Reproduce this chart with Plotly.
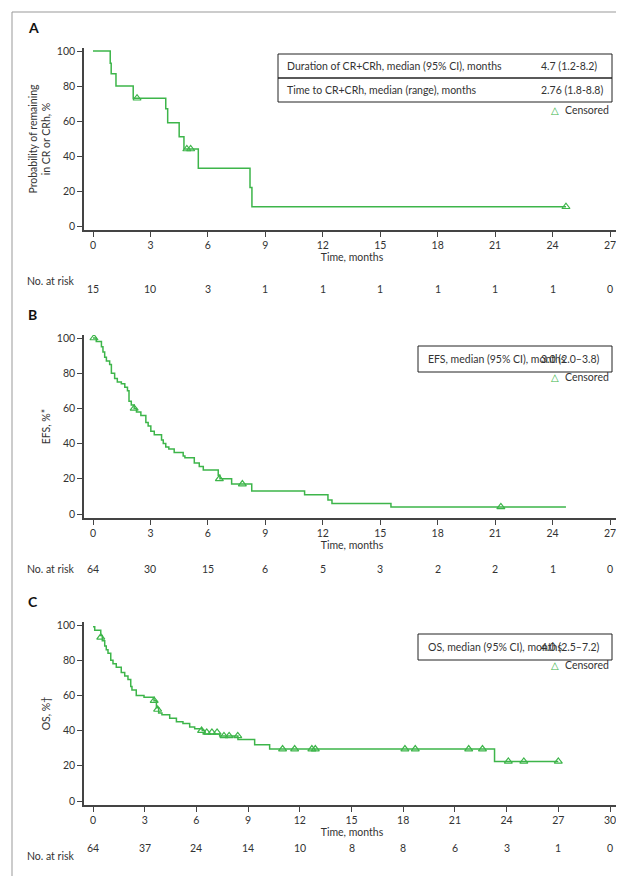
import plotly.graph_objects as go

W, H = 624, 876
GREEN = "#3db54a"
TXT = "#333333"
FONT = "Lato"

# Panel A: duration of CR+CRh
a_time = [0, 0.9, 0.95, 1.2, 2.1, 3.8, 3.9, 4.5, 4.75, 5.5, 8.2, 8.3, 24.7]
a_surv = [100, 93, 87, 80, 73, 67, 59, 51, 44, 33, 22, 11, 11]
a_cens_t = [2.3, 4.9, 5.1, 24.7]
a_cens_s = [73, 44, 44, 11]
a_risk = [15, 10, 3, 1, 1, 1, 1, 1, 1, 0]

# Panel B: EFS
b_time = [0, 0.17, 0.44, 0.52, 0.61, 0.7, 0.87, 0.96, 1.13, 1.27, 1.48, 1.66, 1.8, 1.88, 2.0,
          2.15, 2.27, 2.5, 2.76, 2.88, 3.02, 3.2, 3.58, 3.67, 3.8, 3.96, 4.24, 4.71, 4.8, 5.29,
          5.55, 5.76, 6.54, 6.63, 7.24, 8.29, 11.05, 12.27, 12.48, 15.56, 24.7]
b_surv = [100, 98, 95, 92, 89, 87, 85, 80, 77, 75, 74, 72, 70, 64, 62,
          60, 58, 56, 52, 50, 47, 45, 42, 40, 38, 37, 35, 33, 32, 29,
          27, 25, 22, 20, 17, 13, 11, 8, 6, 4, 4]
b_cens_t = [0.05, 2.15, 6.6, 7.8, 21.3]
b_cens_s = [100, 60, 20, 17, 4]
b_risk = [64, 30, 15, 6, 5, 3, 2, 2, 1, 0]

# Panel C: OS
c_time = [0, 0.1, 0.45, 0.54, 0.68, 0.77, 0.87, 1.03, 1.16, 1.35, 1.64, 1.84, 2.03, 2.19, 2.26,
          2.51, 2.96, 3.54, 3.68, 3.81, 4.0, 4.45, 4.84, 5.22, 5.61, 5.9, 6.34, 6.48, 7.35, 8.41,
          9.38, 10.25, 23.3, 27.0]
c_surv = [99, 97, 94, 91, 88, 86, 84, 80, 78, 76, 73, 71, 69, 65, 63,
          60, 59, 57, 53, 50, 49, 47, 45, 44, 42, 41, 40, 38, 37, 35,
          32, 29.5, 22.5, 22.5]
c_cens_t = [0.45, 3.55, 3.75, 6.3, 6.6, 6.9, 7.2, 7.6, 7.9, 8.4, 11.0, 11.7, 12.7, 12.9,
            18.1, 18.7, 21.8, 22.6, 24.1, 25.0, 27.0]
c_cens_s = [93, 57, 52, 40, 39, 39, 39, 37, 37, 37, 29.5, 29.5, 29.5, 29.5,
            29.5, 29.5, 29.5, 29.5, 22.5, 22.5, 22.5]
c_risk = [64, 37, 24, 14, 10, 8, 8, 6, 3, 1, 0]


def px(x):
    return x / W


def py(y):
    return 1 - y / H


panels = [
    # letter, time, surv, cens t, cens s, risk, xmax, y100 px, y0 px, ytitle
    ("A", a_time, a_surv, a_cens_t, a_cens_s, a_risk, 27, 43, 218,
     "Probability of remaining<br>in CR or CRh, %"),
    ("B", b_time, b_surv, b_cens_t, b_cens_s, b_risk, 27, 330, 506, "EFS, %*"),
    ("C", c_time, c_surv, c_cens_t, c_cens_s, c_risk, 30, 617, 793, "OS, %\u2020"),
]

fig = go.Figure()
annotations = []
shapes = [dict(type="rect", xref="paper", yref="paper", x0=px(4), x1=px(619), y0=py(4), y1=py(871),
               line=dict(color="#999999", width=1))]


def txt(s, x, y, anchor="left", color=TXT, size=10.5, family=FONT):
    annotations.append(dict(text=s, x=px(x), y=py(y), xref="paper", yref="paper", showarrow=False,
                            xanchor=anchor, yanchor="middle", font=dict(size=size, color=color, family=family)))


for i, (letter, t, s, ct, cs, risk, xmax, y100, y0, ytitle) in enumerate(panels):
    n = str(i + 1) if i else ""
    xppm = (602 - 85) / xmax
    yppp = (y0 - y100) / 100
    xr = [-(85 - 76) / xppm, xmax + (612 - 602) / xppm]
    ytop, ybot = y100 - 3, y0 + 4
    yr = [-(ybot - y0) / yppp, 100 + (y100 - ytop) / yppp]
    fig.add_trace(go.Scatter(x=t, y=s, mode="lines", line=dict(color=GREEN, width=1.5, shape="hv"),
                             xaxis="x" + n, yaxis="y" + n, showlegend=False, hoverinfo="skip"))
    fig.add_trace(go.Scatter(x=ct, y=cs, mode="markers",
                             marker=dict(symbol="triangle-up-open", size=7, color=GREEN, line=dict(width=1.2)),
                             xaxis="x" + n, yaxis="y" + n, showlegend=False))
    ax = dict(domain=[px(76), px(612)], range=xr, tickvals=list(range(0, xmax + 1, 3)),
              showline=True, linecolor="#444", linewidth=1.5, ticks="outside", ticklen=5,
              tickcolor="#444", showgrid=False, zeroline=False, anchor="y" + n, automargin=False,
              tickfont=dict(size=10.5, color=TXT, family=FONT),
              title=dict(text="Time, months", font=dict(size=10.5, color=TXT, family=FONT), standoff=2))
    ay = dict(domain=[py(ybot), py(ytop)], range=yr, tickvals=[0, 20, 40, 60, 80, 100],
              showline=True, linecolor="#444", linewidth=1.5, ticks="outside", ticklen=5,
              tickcolor="#444", showgrid=False, zeroline=False, anchor="x" + n, automargin=False,
              tickfont=dict(size=10.5, color=TXT, family=FONT),
              title=dict(text=ytitle, font=dict(size=10.5, color=TXT, family=FONT), standoff=4))
    fig.update_layout(**{"xaxis" + n: ax, "yaxis" + n: ay})

    txt("<b>%s</b>" % letter, 18, y100 - 24, size=14, color="#111")
    ry = py(y0 + 55)
    txt("No. at risk", 17, y0 + 55)
    for k, r in enumerate(risk):
        annotations.append(dict(text=str(r), x=k * 3, y=ry, xref="x" + n, yref="paper",
                                showarrow=False, font=dict(size=10.5, color=TXT, family=FONT)))


def box(x0, x1, y0, y1):
    shapes.append(dict(type="rect", xref="paper", yref="paper", x0=px(x0), x1=px(x1), y0=py(y1), y1=py(y0),
                       line=dict(color="#222", width=1)))


def censored(y):
    txt("Censored", 603, y, "right")
    txt("\u25b3", 547, y, "center", color=GREEN, size=10, family="DejaVu Sans")


box(270, 604, 46, 70)
box(270, 604, 70, 94)
txt("Duration of CR+CRh, median (95% CI), months", 277, 58)
txt("4.7 (1.2-8.2)", 531, 58)
txt("Time to CR+CRh, median (range), months", 277, 82)
txt("2.76 (1.8-8.8)", 531, 82)
censored(102)

box(410, 604, 338, 364)
txt("EFS, median (95% CI), months", 418, 351)
txt("3.0 (2.0\u20133.8)", 531, 351)
censored(369)

box(410, 604, 626, 652)
txt("OS, median (95% CI), months", 418, 639)
txt("4.0 (2.5\u20137.2)", 531, 639)
censored(657)

fig.update_layout(width=W, height=H, margin=dict(l=0, r=0, t=0, b=0), paper_bgcolor="white",
                  plot_bgcolor="white", annotations=annotations, shapes=shapes,
                  font=dict(family=FONT, color=TXT))
fig.write_html("out.html")
